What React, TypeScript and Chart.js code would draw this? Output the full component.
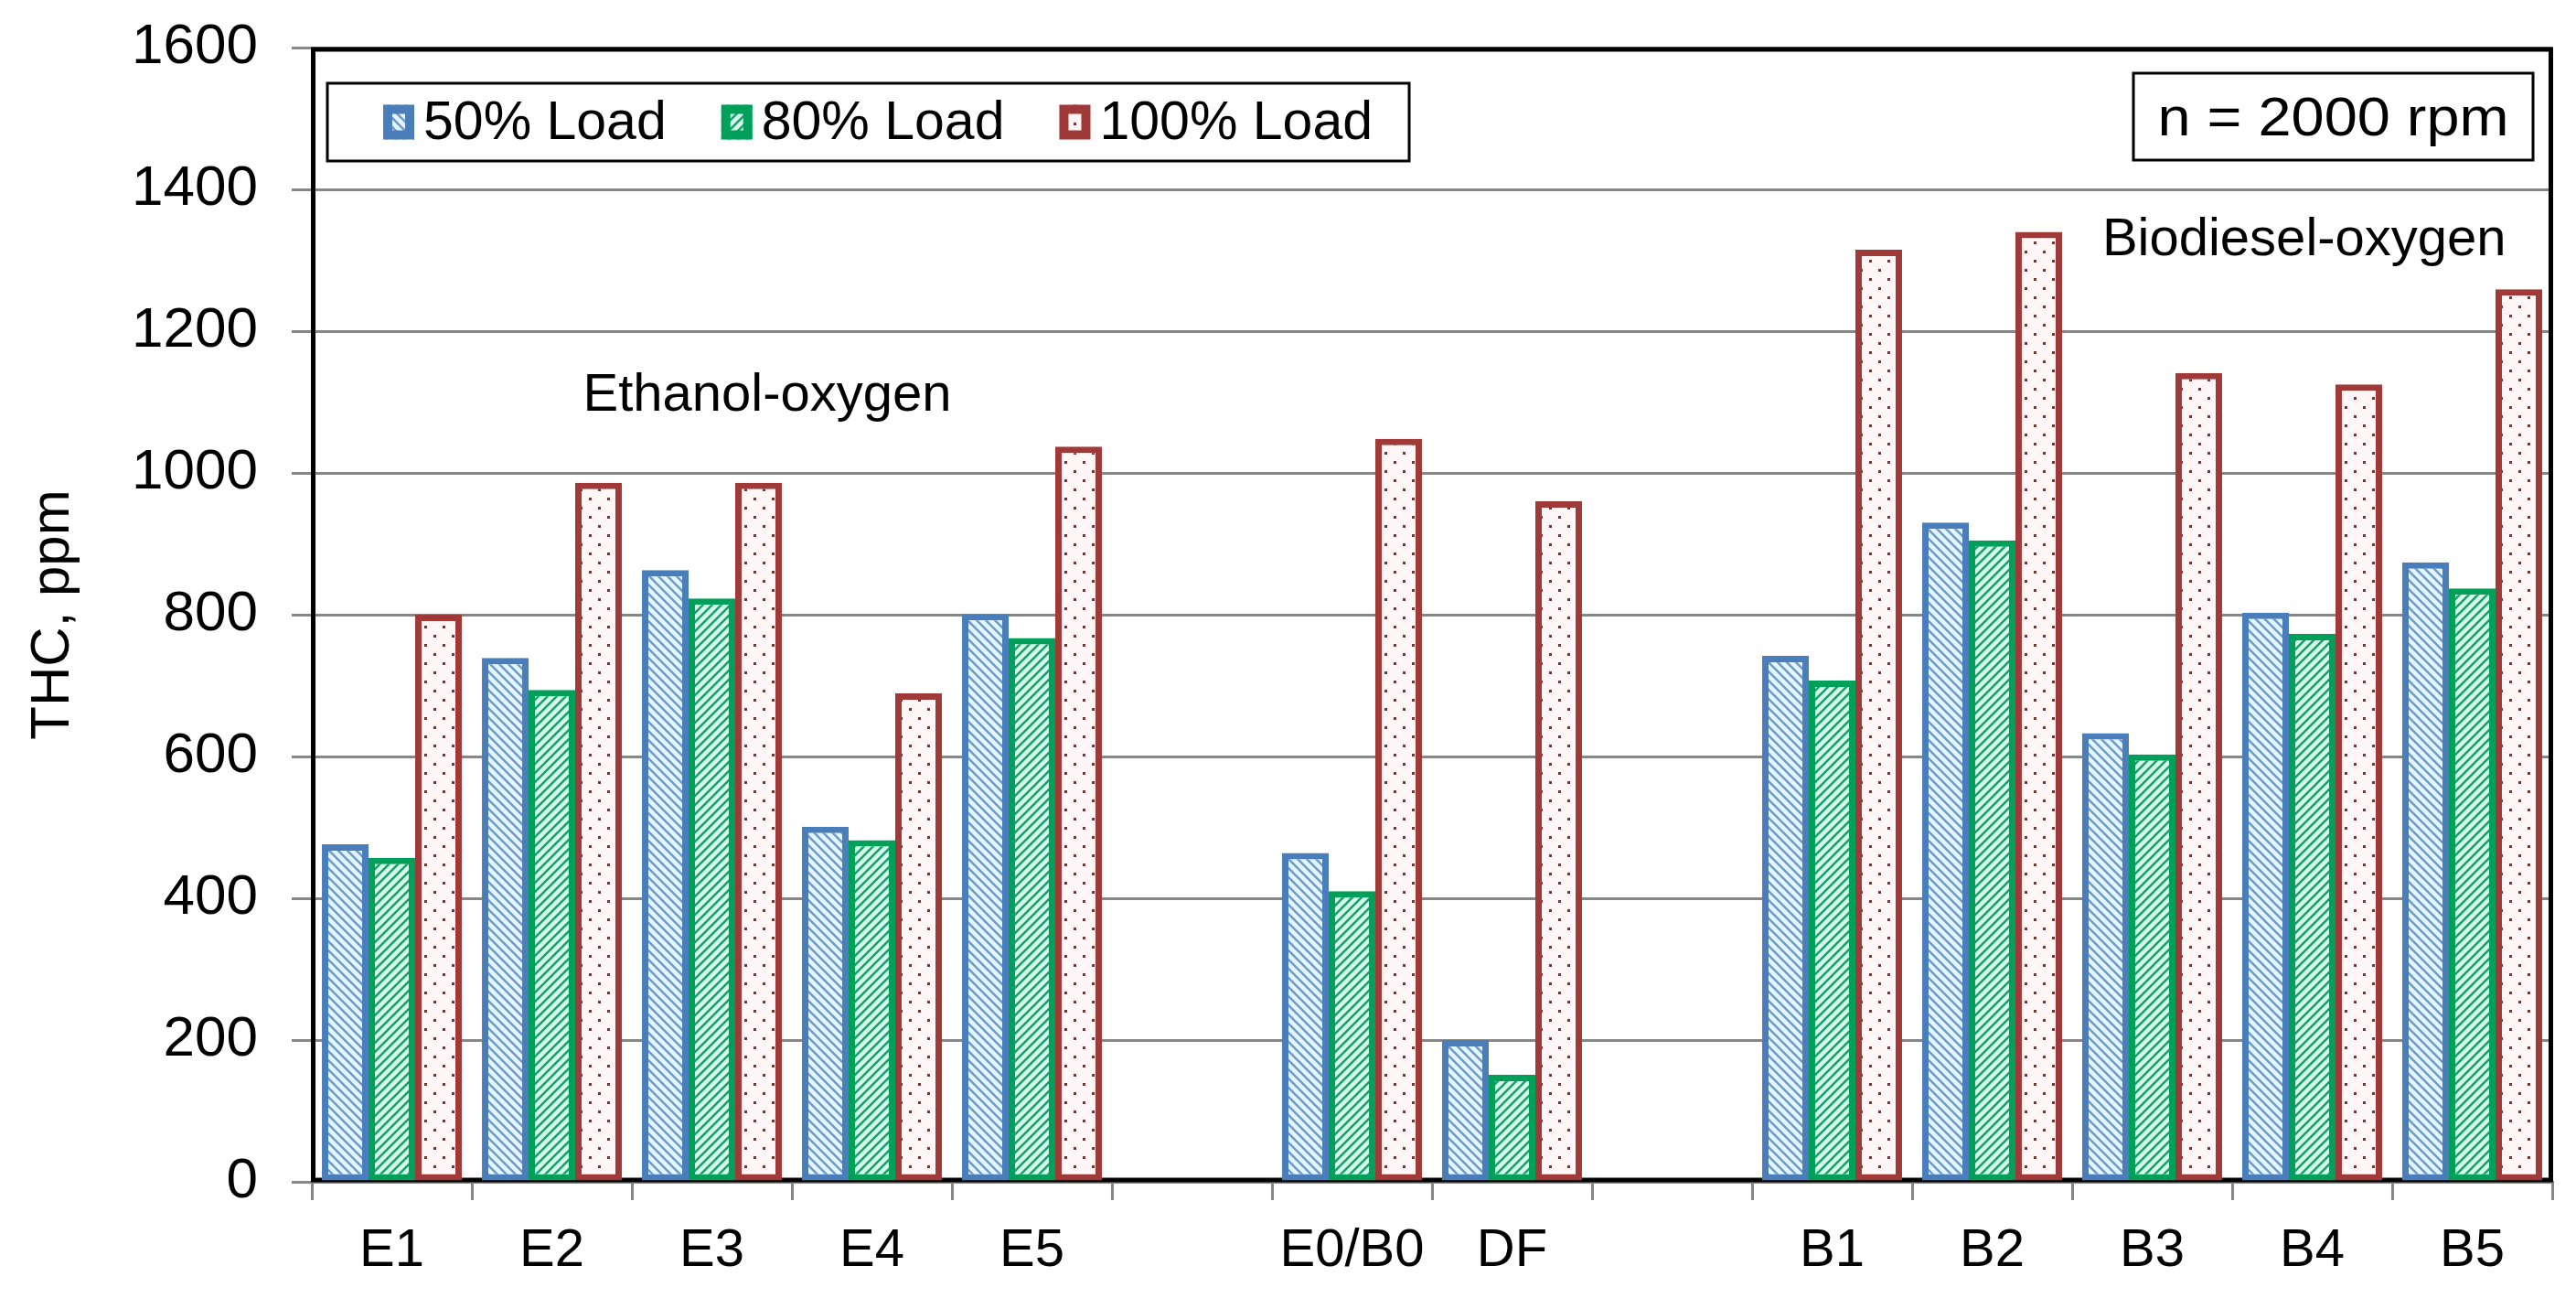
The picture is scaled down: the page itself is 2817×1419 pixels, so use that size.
import React, { useEffect, useRef } from "react";
import { Chart, registerables } from "chart.js";

Chart.register(...registerables);

// ---------- data ----------
const categories = ["E1", "E2", "E3", "E4", "E5", "", "E0/B0", "DF", "", "B1", "B2", "B3", "B4", "B5"];
const load50 = [476, 739, 863, 501, 801, null, 464, 200, null, 742, 930, 633, 803, 874];
const load80 = [457, 694, 823, 482, 767, null, 410, 151, null, 707, 905, 603, 773, 837];
const load100 = [800, 986, 986, 689, 1037, null, 1048, 960, null, 1315, 1340, 1141, 1125, 1259];
const seriesLabels = ["50% Load", "80% Load", "100% Load"];
const yMin = 0;
const yMax = 1600;
const yStep = 200;
const yTitle = "THC, ppm";
const noteEthanol = "Ethanol-oxygen";
const noteBiodiesel = "Biodiesel-oxygen";
const speedNote = "n = 2000 rpm";

const FONT = "'Liberation Sans', Arial, sans-serif";
const GRID = "#878787";

function makePattern(kind: string, bg: string, fg: string): CanvasPattern | string {
  const c = document.createElement("canvas");
  const s = kind === "dots" ? 20 : 10;
  c.width = s;
  c.height = s;
  const ctx = c.getContext("2d");
  if (!ctx) return bg;
  ctx.fillStyle = bg;
  ctx.fillRect(0, 0, s, s);
  ctx.strokeStyle = fg;
  ctx.fillStyle = fg;
  ctx.lineWidth = 2.6;
  if (kind === "down") {
    ctx.beginPath();
    ctx.moveTo(-1, -1); ctx.lineTo(s + 1, s + 1);
    ctx.moveTo(s - 2, -2); ctx.lineTo(s + 2, 2);
    ctx.moveTo(-2, s - 2); ctx.lineTo(2, s + 2);
    ctx.stroke();
  } else if (kind === "up") {
    ctx.beginPath();
    ctx.moveTo(-1, s + 1); ctx.lineTo(s + 1, -1);
    ctx.moveTo(-2, 2); ctx.lineTo(2, -2);
    ctx.moveTo(s - 2, s + 2); ctx.lineTo(s + 2, s - 2);
    ctx.stroke();
  } else {
    ctx.fillRect(4, 4, 3, 3);
    ctx.fillRect(14, 14, 3, 3);
  }
  const p = ctx.createPattern(c, "repeat");
  return p || bg;
}

export default function App() {
  const ref = useRef<HTMLCanvasElement>(null);

  useEffect(() => {
    const canvas = ref.current;
    if (!canvas) return;

    const borders = ["#4A7EBB", "#00A05A", "#A03A38"];
    const fills = [
      makePattern("down", "#E3F6FD", "#6F9BD2"),
      makePattern("up", "#D6F7EC", "#1E9E6A"),
      makePattern("dots", "#FFF7F7", "#6A3A3A"),
    ];
    const values = [load50, load80, load100];

    const decor = {
      id: "decor",
      beforeDraw(chart: any) {
        const ctx = chart.ctx;
        ctx.save();
        ctx.fillStyle = "#ffffff";
        ctx.fillRect(0, 0, chart.width, chart.height);
        ctx.restore();
      },
      beforeDatasetsDraw(chart: any) {
        const { ctx, chartArea: a } = chart;
        ctx.save();
        ctx.strokeStyle = "#000";
        ctx.lineWidth = 5;
        ctx.strokeRect(a.left + 1.5, a.top + 2, a.right - a.left - 3, a.bottom - a.top - 4);
        ctx.restore();
      },
      afterDatasetsDraw(chart: any) {
        const { ctx, chartArea: a, scales } = chart;
        const x = scales.x;
        const y = scales.y;
        ctx.save();
        // group annotations
        ctx.fillStyle = "#000";
        ctx.textAlign = "center";
        ctx.textBaseline = "middle";
        ctx.font = `58px ${FONT}`;
        ctx.fillText(noteEthanol, x.getPixelForValue(2.346), y.getPixelForValue(1108));
        ctx.fillText(noteBiodiesel, x.getPixelForValue(11.95), y.getPixelForValue(1328));

        // legend box
        const lx = a.left + 17;
        const ly = a.top + 39;
        const lw = 1183;
        const lh = 85;
        ctx.fillStyle = "#fff";
        ctx.fillRect(lx, ly, lw, lh);
        ctx.strokeStyle = "#000";
        ctx.lineWidth = 3;
        ctx.strokeRect(lx, ly, lw, lh);
        const cy = ly + lh / 2;
        let cx = lx + 61;
        ctx.font = `59px ${FONT}`;
        ctx.textAlign = "left";
        chart.data.datasets.forEach((ds: any) => {
          const sw = 34;
          const sh = 38;
          ctx.fillStyle = ds.backgroundColor;
          ctx.fillRect(cx, cy - sh / 2, sw, sh);
          ctx.strokeStyle = ds.borderColor;
          ctx.lineWidth = 10;
          ctx.strokeRect(cx + 5, cy - sh / 2 + 5, sw - 10, sh - 10);
          cx += sw + 10;
          ctx.fillStyle = "#000";
          ctx.fillText(ds.label, cx, cy + 2);
          cx += ctx.measureText(ds.label).width + 60;
        });

        // speed box
        const bw = 437;
        const bh = 95;
        const bx = a.right - 21 - bw;
        const by = a.top + 28;
        ctx.fillStyle = "#fff";
        ctx.fillRect(bx, by, bw, bh);
        ctx.strokeStyle = "#000";
        ctx.lineWidth = 3;
        ctx.strokeRect(bx, by, bw, bh);
        ctx.fillStyle = "#000";
        ctx.textAlign = "center";
        ctx.font = `60px ${FONT}`;
        const tw = ctx.measureText(speedNote).width;
        const sx = 384 / tw;
        ctx.save();
        ctx.translate(bx + bw / 2, by + bh / 2 + 4);
        ctx.scale(sx, 1);
        ctx.fillText(speedNote, 0, 0);
        ctx.restore();
        ctx.restore();
      },
    };

    const chart = new Chart(canvas, {
      type: "bar",
      data: {
        labels: categories,
        datasets: values.map((v, i) => ({
          label: seriesLabels[i],
          data: v,
          backgroundColor: fills[i] as any,
          borderColor: borders[i],
          borderWidth: 7,
          borderSkipped: false,
          categoryPercentage: 0.874,
          barPercentage: 1.0,
        })),
      },
      options: {
        responsive: false,
        animation: false,
        devicePixelRatio: 1,
        layout: { autoPadding: false, padding: { left: 0, top: 52, right: 26, bottom: 0 } },
        plugins: {
          legend: { display: false },
          tooltip: { enabled: false },
        },
        scales: {
          x: {
            grid: {
              offset: true,
              drawOnChartArea: false,
              drawTicks: true,
              tickLength: 20,
              color: GRID,
              lineWidth: 3,
            },
            border: { display: true, color: GRID, width: 3 },
            ticks: {
              font: { family: FONT, size: 58 },
              color: "#000",
              padding: 21,
              maxRotation: 0,
              autoSkip: false,
            },
            afterFit: (s: any) => {
              s.height = 127;
              s.paddingLeft = 0;
              s.paddingRight = 0;
            },
          },
          y: {
            min: yMin,
            max: yMax,
            ticks: {
              stepSize: yStep,
              font: { family: FONT, size: 62 },
              color: "#000",
              padding: 37,
              callback: (v: any) => String(v),
            },
            grid: { color: GRID, lineWidth: 3, tickLength: 22 },
            border: { display: true, color: GRID, width: 3 },
            title: {
              display: true,
              text: yTitle,
              font: { family: FONT, size: 60 },
              color: "#000",
              padding: { top: 22, bottom: 0 },
            },
            afterFit: (s: any) => {
              s.width = 341;
              s.paddingTop = 0;
              s.paddingBottom = 0;
            },
          },
        },
      } as any,
      plugins: [decor],
    });

    return () => {
      chart.destroy();
    };
  }, []);

  return (
    <div style={{ position: "absolute", left: 0, top: 0, width: 2817, height: 1419, background: "#fff" }}>
      <canvas ref={ref} width={2817} height={1419} style={{ display: "block", width: 2817, height: 1419 }} />
    </div>
  );
}
